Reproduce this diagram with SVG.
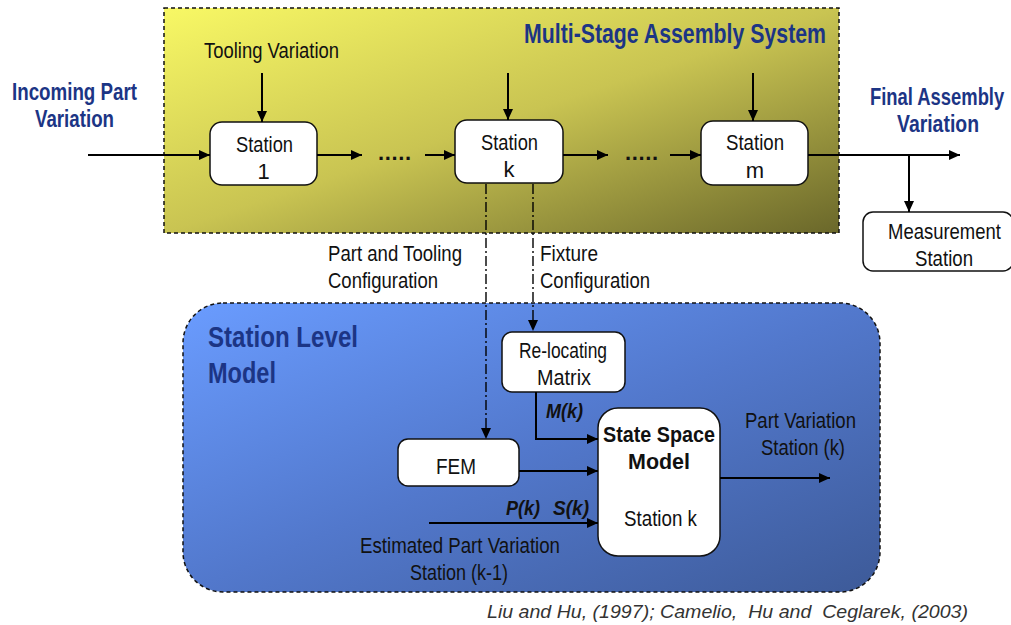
<svg xmlns="http://www.w3.org/2000/svg" width="1011" height="625" viewBox="0 0 1011 625">
<defs>
<linearGradient id="gy" x1="0" y1="0" x2="1" y2="1">
<stop offset="0" stop-color="#f8f865"/>
<stop offset="0.5" stop-color="#c9c452"/>
<stop offset="1" stop-color="#6a672a"/>
</linearGradient>
<linearGradient id="gb" x1="0" y1="0" x2="1" y2="1">
<stop offset="0" stop-color="#6a9cff"/>
<stop offset="0.5" stop-color="#5278cc"/>
<stop offset="1" stop-color="#3d5a98"/>
</linearGradient>
<marker id="ah" markerUnits="userSpaceOnUse" markerWidth="12" markerHeight="10" refX="11" refY="5" orient="auto">
<path d="M0,0 L11,5 L0,10 z" fill="#000"/>
</marker>
</defs>
<style>
text{font-family:"Liberation Sans",Arial,sans-serif;fill:#111;}
.t{font-size:22px;}
.hd{font-size:23px;font-weight:bold;fill:#1c3585;}
.bi{font-size:21px;font-weight:bold;font-style:italic;}
.box{fill:#fff;stroke:#111;stroke-width:1.5;}
.ln{stroke:#000;stroke-width:2;fill:none;}
.arr{stroke:#000;stroke-width:2;fill:none;marker-end:url(#ah);}
.dd{stroke:#000;stroke-width:1.4;fill:none;stroke-dasharray:10 3 2 3;}
.reg{stroke:#111;stroke-width:1.5;stroke-dasharray:4 3;}
</style>

<g id="assembly-system">
<rect x="164" y="8" width="675" height="225" fill="url(#gy)" class="reg"/>
<text class="hd" x="524" y="43" textLength="302" lengthAdjust="spacingAndGlyphs" style="font-size:27px">Multi-Stage Assembly System</text>
</g>

<g id="station-level-model">
<rect x="183" y="303" width="697" height="289" rx="40" ry="40" fill="url(#gb)" class="reg"/>
<text class="hd" x="208" y="347" textLength="150" lengthAdjust="spacingAndGlyphs" style="font-size:30px">Station Level</text>
<text class="hd" x="208" y="383" textLength="68" lengthAdjust="spacingAndGlyphs" style="font-size:30px">Model</text>
</g>

<g id="incoming-label">
<text class="hd" x="12" y="100" textLength="125" lengthAdjust="spacingAndGlyphs">Incoming Part</text>
<text class="hd" x="35" y="127" textLength="79" lengthAdjust="spacingAndGlyphs">Variation</text>
</g>

<g id="final-label">
<text class="hd" transform="translate(870,105) scale(0.8,1)" x="0" y="0">Final Assembly</text>
<text class="hd" x="897" y="132" textLength="82" lengthAdjust="spacingAndGlyphs">Variation</text>
</g>

<g id="tooling-label">
<text class="t" x="204" y="58" textLength="135" lengthAdjust="spacingAndGlyphs">Tooling Variation</text>
</g>

<g id="station-1">
<rect class="box" x="210" y="122" width="107" height="63" rx="12"/>
<text class="t" x="236" y="152" textLength="57" lengthAdjust="spacingAndGlyphs">Station</text>
<text class="t" x="263.5" y="179" text-anchor="middle">1</text>
</g>

<g id="station-k">
<rect class="box" x="455" y="120" width="108" height="63" rx="12"/>
<text class="t" x="481" y="150" textLength="57" lengthAdjust="spacingAndGlyphs">Station</text>
<text class="t" x="509" y="177" text-anchor="middle">k</text>
</g>

<g id="station-m">
<rect class="box" x="701" y="121" width="107" height="64" rx="12"/>
<text class="t" x="726" y="150" textLength="58" lengthAdjust="spacingAndGlyphs">Station</text>
<text class="t" x="755" y="178" text-anchor="middle">m</text>
</g>

<g id="measurement-station">
<rect class="box" x="863" y="212" width="150" height="59" rx="10"/>
<text class="t" transform="translate(888,239) scale(0.84,1)" x="0" y="0">Measurement</text>
<text class="t" x="915" y="266" textLength="58" lengthAdjust="spacingAndGlyphs">Station</text>
</g>

<g id="config-labels">
<text class="t" x="328" y="261" textLength="134" lengthAdjust="spacingAndGlyphs">Part and Tooling</text>
<text class="t" x="328" y="288" textLength="110" lengthAdjust="spacingAndGlyphs">Configuration</text>
<text class="t" x="540" y="261" textLength="58" lengthAdjust="spacingAndGlyphs">Fixture</text>
<text class="t" x="540" y="288" textLength="110" lengthAdjust="spacingAndGlyphs">Configuration</text>
</g>

<g id="relocating-matrix">
<rect class="box" x="502" y="332" width="123" height="60" rx="10"/>
<text class="t" x="519" y="358" textLength="88" lengthAdjust="spacingAndGlyphs">Re-locating</text>
<text class="t" x="537" y="385" textLength="54" lengthAdjust="spacingAndGlyphs">Matrix</text>
</g>

<g id="fem">
<rect class="box" x="398" y="439" width="121" height="47" rx="10"/>
<text class="t" x="436" y="474" textLength="40" lengthAdjust="spacingAndGlyphs">FEM</text>
</g>

<g id="state-space-model">
<rect class="box" x="598" y="408" width="122" height="148" rx="20"/>
<text class="t" x="603" y="442" font-weight="bold" textLength="112" lengthAdjust="spacingAndGlyphs">State Space</text>
<text class="t" x="628" y="469" font-weight="bold" textLength="62" lengthAdjust="spacingAndGlyphs">Model</text>
<text class="t" x="624" y="526" textLength="73" lengthAdjust="spacingAndGlyphs">Station k</text>
</g>

<g id="connectors">
<line class="arr" x1="88" y1="155" x2="210" y2="155"/>
<line class="arr" x1="317" y1="155" x2="362" y2="155"/>
<line class="arr" x1="425" y1="155" x2="455" y2="155"/>
<line class="arr" x1="563" y1="155" x2="608" y2="155"/>
<line class="arr" x1="670" y1="155" x2="701" y2="155"/>
<line class="arr" x1="808" y1="155" x2="960" y2="155"/>
<line class="arr" x1="909" y1="155" x2="909" y2="212"/>
<line class="arr" x1="262" y1="73" x2="262" y2="122"/>
<line class="arr" x1="508" y1="73" x2="508" y2="120"/>
<line class="arr" x1="753" y1="73" x2="753" y2="121"/>
<text x="378" y="160" textLength="33" lengthAdjust="spacing" style="font-size:22px;font-weight:bold">.....</text>
<text x="625" y="160" textLength="33" lengthAdjust="spacing" style="font-size:22px;font-weight:bold">.....</text>
<line class="dd" x1="486" y1="184" x2="486" y2="430"/>
<path d="M481,428 L486,439 L491,428 z" fill="#000"/>
<line class="dd" x1="533" y1="184" x2="533" y2="322"/>
<path d="M528,320 L533,331 L538,320 z" fill="#000"/>
<path class="arr" d="M536,392 L536,439 L598,439"/>
<line class="arr" x1="519" y1="471" x2="598" y2="471"/>
<line class="arr" x1="429" y1="523" x2="598" y2="523"/>
<line class="arr" x1="720" y1="478" x2="830" y2="478"/>
<text class="bi" x="546" y="418" textLength="37" lengthAdjust="spacingAndGlyphs">M(k)</text>
<text class="bi" x="506" y="515" textLength="34" lengthAdjust="spacingAndGlyphs">P(k)</text>
<text class="bi" x="553" y="515" textLength="36" lengthAdjust="spacingAndGlyphs">S(k)</text>
<text class="t" x="360" y="553" textLength="200" lengthAdjust="spacingAndGlyphs">Estimated Part Variation</text>
<text class="t" x="410" y="580" textLength="98" lengthAdjust="spacingAndGlyphs">Station (k-1)</text>
<text class="t" x="745" y="428" textLength="111" lengthAdjust="spacingAndGlyphs">Part Variation</text>
<text class="t" x="761" y="455" textLength="84" lengthAdjust="spacingAndGlyphs">Station (k)</text>
</g>

<text x="487" y="618" font-style="italic" xml:space="preserve" style="font-size:19px;fill:#333;white-space:pre" textLength="481" lengthAdjust="spacingAndGlyphs">Liu and Hu, (1997); Camelio,  Hu and  Ceglarek, (2003)</text>
</svg>
